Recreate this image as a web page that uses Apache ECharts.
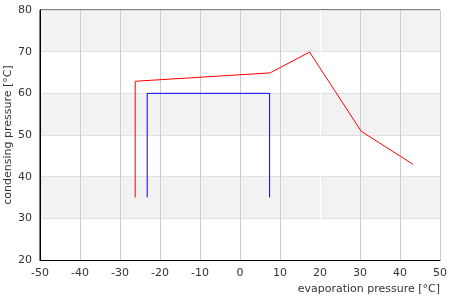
<!DOCTYPE html>
<html><head><meta charset="utf-8">
<script src="https://cdn.jsdelivr.net/npm/echarts@6/dist/echarts.min.js"></script>
<style>html,body{margin:0;padding:0;background:#fff}#c{width:450px;height:300px}</style>
</head><body><div id="c"></div>
<script>
const redX = [-26.2, -26.2, 7.5, 17.4, 30.3, 43.2];
const redY = [35, 62.9, 64.9, 69.9, 50.9, 43];
const blueX = [-23.2, -23.2, 7.4, 7.4];
const blueY = [35, 60, 60, 35];
const xName = 'evaporation pressure [°C]';
const yName = 'condensing pressure [°C]';

const font = 'DejaVu Sans';
const chart = echarts.init(document.getElementById('c'));
const vColors = ['#ccc','#ccc','#ccc','#ccc','#ccc','#ccc','#ccc','#fff','#ccc','#ccc','#ccc'];
chart.setOption({
  animation: false,
  grid: {left: 40, right: 10, top: 10, bottom: 40, containLabel: false, outerBoundsMode: 'none', show: true, borderColor: '#000', borderWidth: 1, backgroundColor: 'transparent'},
  xAxis: {
    type: 'value', min: -50, max: 50, interval: 10,
    name: xName, nameLocation: 'end', nameGap: 0, nameMoveOverlap: false,
    nameTextStyle: {fontFamily: font, fontSize: 11, color: '#333', align: 'right', verticalAlign: 'top', padding: [24, 0, 0, 0]},
    axisLine: {show: true, onZero: false, lineStyle: {color: '#000'}},
    axisTick: {show: false},
    axisLabel: {fontFamily: font, fontSize: 11, color: '#333', margin: 8},
    splitLine: {show: true, lineStyle: {color: vColors, width: 1}}
  },
  yAxis: {
    type: 'value', min: 20, max: 80, interval: 10,
    name: yName, nameLocation: 'middle', nameGap: 26, nameMoveOverlap: false,
    nameTextStyle: {fontFamily: font, fontSize: 11, color: '#333'},
    axisLine: {show: true, onZero: false, lineStyle: {color: '#000'}},
    axisTick: {show: false},
    axisLabel: {fontFamily: font, fontSize: 11, color: '#333', margin: 8},
    splitLine: {show: true, lineStyle: {color: '#e0e0e0', width: 1}},
    splitArea: {show: true, areaStyle: {color: ['#ffffff', '#f2f2f2']}}
  },
  series: [
    {type: 'line', data: redX.map((x, i) => [x, redY[i]]), symbol: 'none', lineStyle: {color: '#ff0000', width: 1}, itemStyle: {color: '#ff0000'}},
    {type: 'line', data: blueX.map((x, i) => [x, blueY[i]]), symbol: 'none', lineStyle: {color: '#0000ff', width: 1}, itemStyle: {color: '#0000ff'}}
  ]
});
</script></body></html>
